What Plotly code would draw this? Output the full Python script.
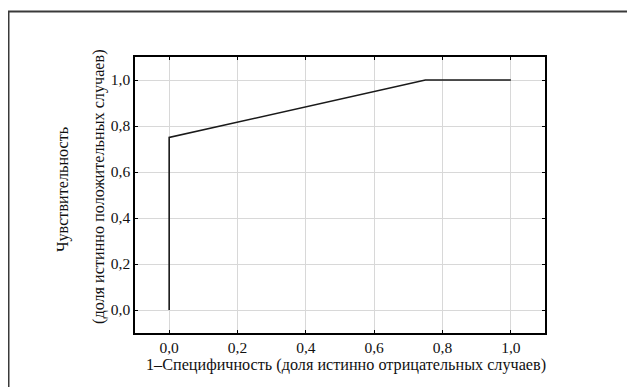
import plotly.graph_objects as go

# ROC curve data
fpr = [0.0, 0.0, 0.75, 1.0]
tpr = [0.0, 0.75, 1.0, 1.0]
tick_vals = [0.0, 0.2, 0.4, 0.6, 0.8, 1.0]

x_title = "1–Специфичность (доля истинно отрицательных случаев)"
y_title_1 = "Чувствительность"
y_title_2 = "(доля истинно положительных случаев)"

# page has an 8px body margin; the figure fills the rest of the 635x387 window
OFF = 8
W, H = 635 - OFF, 387 - OFF
L, R, T, B = 135 - OFF, 90, 57 - OFF, 54
pw, ph = W - L - R, H - T - B


def px(page_x):
    return (page_x - OFF - L) / pw


def py(page_y):
    return 1 - (page_y - OFF - T) / ph


SERIF = "Liberation Serif"

fig = go.Figure()
fig.add_trace(go.Scatter(x=fpr, y=tpr, mode="lines",
                         line=dict(color="#1a1a1a", width=1.6),
                         showlegend=False, hoverinfo="skip"))

tick_font = dict(family=SERIF, size=15.5, color="#111")
title_font = dict(family=SERIF, size=16.2, color="#111")

axis_common = dict(
    showgrid=True, gridcolor="#d8d8d8", gridwidth=1,
    zeroline=False, showline=True, linecolor="#000", linewidth=1.5,
    mirror="ticks", ticks="inside", ticklen=3, tickwidth=1, tickcolor="#000",
    tickvals=tick_vals, tickformat=".1f", tickfont=tick_font,
)

fig.update_layout(
    width=W, height=H,
    margin=dict(l=L, r=R, t=T, b=B, pad=0),
    paper_bgcolor="white", plot_bgcolor="white",
    separators=", ",
    font=dict(family=SERIF, size=15, color="#111"),
    xaxis=dict(range=[-0.1, 1.1], **axis_common),
    yaxis=dict(range=[-0.1, 1.1], **axis_common),
)

common_ann = dict(xref="paper", yref="paper", showarrow=False, font=title_font,
                  xanchor="center", yanchor="middle")
fig.add_annotation(text=x_title, x=px(346), y=py(365), **common_ann)
fig.add_annotation(text=y_title_1, x=px(63), y=py(190), textangle=-90, **common_ann)
fig.add_annotation(text=y_title_2, x=px(99), y=py(187), textangle=-90, **common_ann)

# outer frame (extends beyond the right/bottom edges)
fig.add_shape(type="rect", xref="paper", yref="paper",
              x0=(0.5 - L) / pw, x1=(W + 10 - L) / pw,
              y0=-(B + 10) / ph, y1=(ph + T - 3.5) / ph,
              line=dict(color="#3a3a3a", width=2), fillcolor="rgba(0,0,0,0)", layer="below")

fig.write_html("out.html")
